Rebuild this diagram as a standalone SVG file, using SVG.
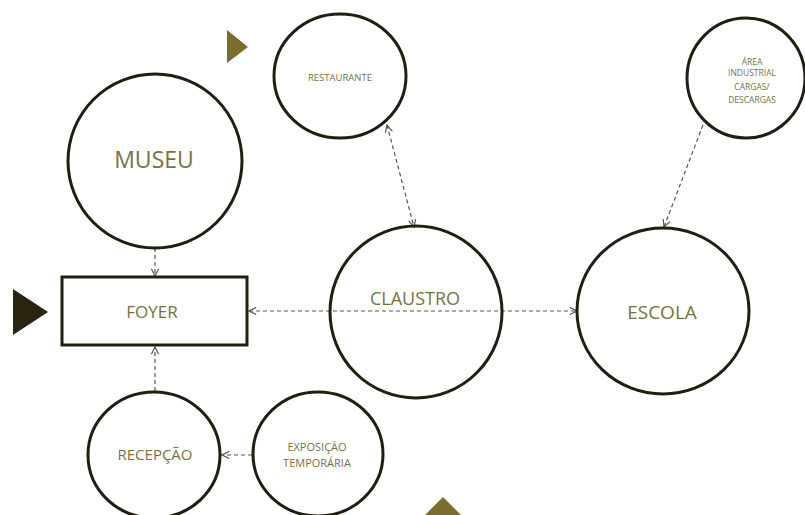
<svg xmlns="http://www.w3.org/2000/svg" width="805" height="515" viewBox="0 0 805 515">
<style>
.node{fill:#fff;stroke:#221d10;stroke-width:3}
.lbl{font-family:"Open Sans","Liberation Sans",sans-serif;fill:#77733f;text-anchor:middle}
.con{fill:none;stroke:#555;stroke-width:1.2;stroke-dasharray:4 3}
</style>
<defs>
<marker id="arr" viewBox="0 0 10 10" refX="9" refY="5" markerWidth="9" markerHeight="9" markerUnits="userSpaceOnUse" orient="auto-start-reverse">
<path d="M1,1 L9,5 L1,9" fill="none" stroke="#555" stroke-width="1.3"/>
</marker>
</defs>
<rect width="805" height="515" fill="#fff"/>
<polygon points="227,30 248,47 227,63" fill="#7a6e2e"/>
<polygon points="13,289 48,312 13,335" fill="#2b2410"/>
<polygon points="443,497 461,515 425,515" fill="#7a6e2e"/>
<g id="connectors">
<line class="con" x1="155" y1="248" x2="155" y2="276" marker-end="url(#arr)"/>
<line class="con" x1="155" y1="391" x2="155" y2="347" marker-end="url(#arr)"/>
<line class="con" x1="249" y1="311" x2="577" y2="311" marker-start="url(#arr)" marker-end="url(#arr)"/>
<line class="con" x1="387" y1="125" x2="414" y2="227" marker-start="url(#arr)" marker-end="url(#arr)"/>
<line class="con" x1="703" y1="125" x2="664" y2="227" marker-end="url(#arr)"/>
<line class="con" x1="252" y1="455" x2="222" y2="455" marker-end="url(#arr)"/>
</g>
<g id="claustro"><circle class="node" cx="416" cy="312" r="86" fill-opacity="0"/><text class="lbl" x="415" y="305" font-size="18">CLAUSTRO</text></g>
<g id="museu"><circle class="node" cx="155" cy="161" r="87"/><text class="lbl" x="154" y="168" font-size="23">MUSEU</text></g>
<g id="restaurante"><ellipse class="node" cx="340" cy="76" rx="66" ry="62"/><text class="lbl" x="340" y="81" font-size="9.5">RESTAURANTE</text></g>
<g id="area"><ellipse class="node" cx="746" cy="78" rx="59" ry="60"/><text class="lbl" font-size="8.5"><tspan x="752" y="65">ÁREA</tspan><tspan x="752" y="76">INDUSTRIAL</tspan><tspan x="752" y="90">CARGAS/</tspan><tspan x="752" y="103">DESCARGAS</tspan></text></g>
<g id="foyer"><rect class="node" x="62" y="277" width="185" height="68"/><text class="lbl" x="152" y="318" font-size="17">FOYER</text></g>
<g id="escola"><ellipse class="node" cx="663" cy="311" rx="86" ry="83"/><text class="lbl" x="662" y="319" font-size="19">ESCOLA</text></g>
<g id="recepcao"><ellipse class="node" cx="154" cy="455" rx="66" ry="63"/><text class="lbl" x="155" y="460" font-size="15">RECEPÇÃO</text></g>
<g id="exposicao"><ellipse class="node" cx="318" cy="454" rx="65" ry="62"/><text class="lbl" font-size="11"><tspan x="317" y="451">EXPOSIÇÃO</tspan><tspan x="317" y="467">TEMPORÁRIA</tspan></text></g>
</svg>
